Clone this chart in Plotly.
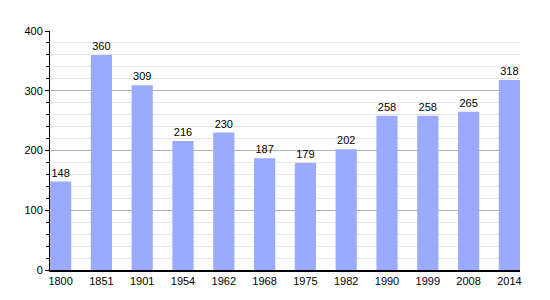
import plotly.graph_objects as go

years = ["1800", "1851", "1901", "1954", "1962", "1968", "1975", "1982", "1990", "1999", "2008", "2014"]
population = [148, 360, 309, 216, 230, 187, 179, 202, 258, 258, 265, 318]

fig = go.Figure()
fig.add_trace(go.Bar(
    x=years, y=population,
    marker=dict(color="#99AAFF", line=dict(width=0)),
    width=0.52,
    text=[str(v) for v in population],
    textposition="outside",
    textfont=dict(color="black", size=11, family="Liberation Sans, Arial"),
    cliponaxis=False,
))
fig.update_layout(
    width=550, height=300,
    margin=dict(l=50, r=30, t=31, b=30),
    paper_bgcolor="white", plot_bgcolor="white",
    font=dict(family="Liberation Sans, Arial", size=11, color="black"),
    showlegend=False,
    bargap=0.48,
)
fig.update_xaxes(
    type="category", range=[-0.26, 11.26],
    showline=True, linecolor="black", linewidth=1.5,
    ticks="", showgrid=False,
    tickfont=dict(size=11),
)
fig.update_yaxes(
    range=[0, 400], dtick=100, tick0=0,
    showline=True, linecolor="black", linewidth=1,
    ticks="outside", ticklen=4, tickcolor="black",
    showgrid=True, gridcolor="#b0b0b0", gridwidth=1,
    minor=dict(dtick=20, showgrid=True, gridcolor="#e6e6e6", ticks="outside", ticklen=3, tickcolor="black"),
    zeroline=False,
    tickfont=dict(size=11),
)
fig.write_html("out.html")
